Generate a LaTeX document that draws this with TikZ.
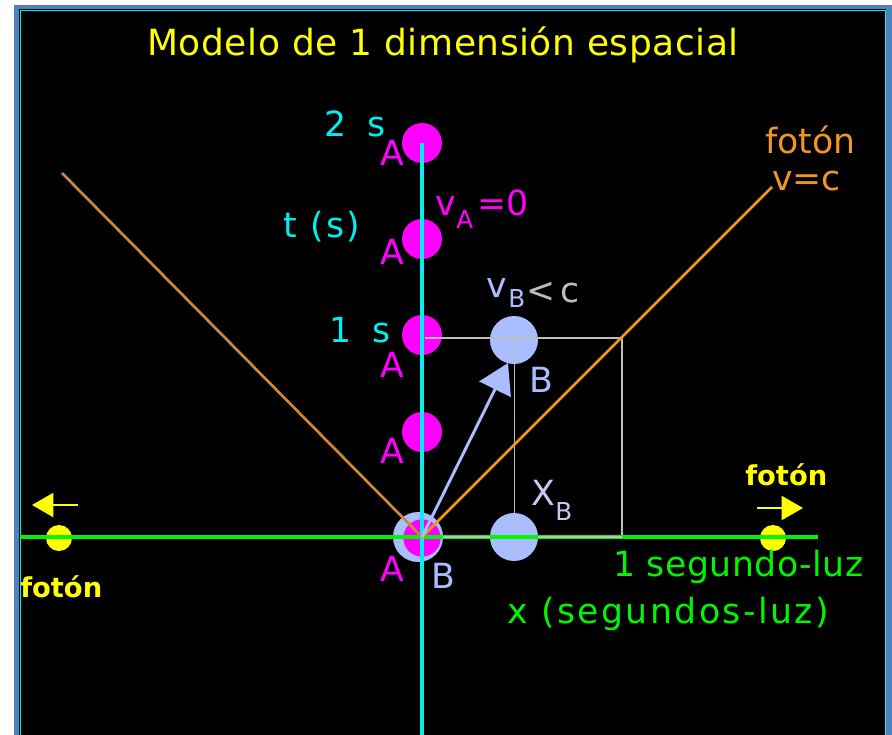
\documentclass[tikz,border=0pt]{standalone}
\usepackage{fontspec}
\setmainfont{DejaVu Sans}
\newfontfamily\lsbig[LetterSpace=7]{DejaVu Sans}
\newfontfamily\lsmid[LetterSpace=3.5]{DejaVu Sans}
\newfontfamily\lssmall[LetterSpace=1.5]{DejaVu Sans}
\usetikzlibrary{arrows.meta}
\definecolor{frameblue}{RGB}{79,129,189}
\definecolor{cyanax}{RGB}{0,240,240}
\definecolor{greenax}{RGB}{0,245,0}
\definecolor{mag}{RGB}{255,0,255}
\definecolor{lblue}{RGB}{170,190,255}
\definecolor{lav}{RGB}{200,200,245}
\definecolor{greyl}{RGB}{190,190,190}
\definecolor{orng}{RGB}{240,150,35}
\definecolor{orngd}{RGB}{205,135,55}
\definecolor{yel}{RGB}{255,255,0}
\tikzset{
  mball/.style={circle, fill=mag, inner sep=0pt, minimum size=30pt},
  bball/.style={circle, fill=lblue, inner sep=0pt, minimum size=36pt},
  pball/.style={circle, fill=yel, inner sep=0pt, minimum size=19.5pt},
  lbl/.style={inner sep=0pt, font=\fontsize{26}{30}\selectfont},
  sublbl/.style={inner sep=0pt, font=\fontsize{18.5}{22}\selectfont},
  ylbl/.style={inner sep=0pt, text=yel, font=\fontsize{20.5}{24}\selectfont\bfseries},
}
\begin{document}
\begin{tikzpicture}[x=0.75pt,y=-0.75pt]
\useasboundingbox (0,0) rectangle (892,735);
% frame
\fill[frameblue] (14,5) rectangle (892,735);
\fill[black] (19,9.5) rectangle (886,735);
\draw[cyanax, line width=0.75pt] (20.5,11) rectangle (885,740);

% coordinates
\coordinate (O) at (422,537);
\coordinate (ttop) at (422,143);
\coordinate (tbot) at (422,735);
\coordinate (xl) at (20,537);
\coordinate (xr) at (818,537);
\coordinate (RT) at (425,338);
\coordinate (RC) at (622,338);
\coordinate (RB) at (622,537);
\coordinate (PLend) at (62,173);
\coordinate (PRend) at (772,187);
\coordinate (Btip) at (508,363);
\coordinate (yr1) at (757,508);
\coordinate (yr2) at (803,508);
\coordinate (yl1) at (78,505);
\coordinate (yl2) at (32,505);

% balls
\node[mball] (A2) at (422,143) {};
\node[mball] (A15) at (422,239) {};
\node[mball] (A1) at (422,335) {};
\node[mball] (A05) at (422,432) {};
\node[bball, minimum size=37.5pt] (B0) at (418,537) {};
\node[mball, minimum size=28pt] (A0) at (422,538) {};
\node[bball] (B1) at (514,340) {};
\node[bball] (BX) at (514,537) {};
\node[pball] (PL) at (59,538) {};
\node[pball] (PR) at (773,538) {};

% grey construction lines
\draw[greyl, line width=1.5pt] (RT) -- (RC) -- (RB);
\draw[greyl, line width=0.75pt] (B1.center) -- (BX.center);

% x axis
\draw[greenax, line width=2.6pt] (xl) -- (xr);
\draw[greyl, line width=1.5pt] (B0.east) -- (BX.west);
\draw[greyl, line width=1.5pt] (BX.east) -- (RB);

% t axis
\draw[cyanax, line width=2.6pt] (ttop) -- (tbot);

% photon world lines
\draw[orngd, line width=2pt] (O) -- (PLend);
\draw[orng, line width=2pt] (O) -- (PRend);

% B velocity arrow
\draw[lblue, line width=2.2pt, -{Triangle[length=22pt,width=26pt]}] (O) -- (Btip);

% photon arrows
\draw[yel, line width=1.6pt, -{Triangle[length=16pt,width=18pt]}] (yr1) -- (yr2);
\draw[yel, line width=1.6pt, -{Triangle[length=16pt,width=18pt]}] (yl1) -- (yl2);

% texts
\node[inner sep=0pt, text=yel, font=\fontsize{27}{30}\lssmall, anchor=base] (title) at (443,56) {Modelo de 1 dimensión espacial};

\node[lbl, text=cyanax, anchor=base] (l2s) at (355,137) {2\hspace{0.3em} s};
\node[inner sep=0pt, font=\fontsize{26}{30}\lsbig, text=cyanax, anchor=base] (lts) at (322,237) {t (s)};
\node[lbl, text=cyanax, anchor=base] (l1s) at (360,342) {1\hspace{0.3em} s};

\node[lbl, text=mag] (la2) at (392,153) {A};
\node[lbl, text=mag] (la15) at (392,252) {A};
\node[lbl, text=mag] (la1) at (392,365) {A};
\node[lbl, text=mag] (la05) at (392,451) {A};
\node[lbl, text=mag] (la0) at (392,569) {A};

\node[lbl, text=mag, anchor=base west] (vA) at (435,215) {v};
\node[sublbl, text=mag, anchor=base west] (vAs) at (456,228) {A};
\node[lbl, text=mag, anchor=base west] (vA0) at (477,215) {=0};

\node[lbl, text=lblue, anchor=base west] (vB) at (486,297) {v};
\node[sublbl, text=lblue, anchor=base west] (vBs) at (508,307) {B};
\node[lbl, text=greyl, anchor=base west] (vBc) at (526,302) {<\hspace{0.15em}c};

\node[lbl, text=lblue] (lB1) at (541,380) {B};
\node[lbl, text=lblue] (lB0) at (443,576) {B};

\node[lbl, text=lav, anchor=base west] (xB) at (531,505) {X};
\node[sublbl, text=lav, anchor=base west] (xBs) at (555,520) {B};

\node[inner sep=0pt, font=\fontsize{26}{30}\lssmall, text=greenax, anchor=base west] (seg) at (613,576) {1 segundo-luz};
\node[inner sep=0pt, font=\fontsize{26}{30}\lsbig, text=greenax, anchor=base west] (xlab) at (507,623) {x (segundos-luz)};

\node[lbl, text=orng, anchor=base west] (fo) at (765,153) {fotón};
\node[lbl, text=orng, anchor=base west] (vc) at (772,190) {v=c};

\node[ylbl, anchor=base west] (fr) at (745,485) {fotón};
\node[ylbl, anchor=base west] (fl) at (20,597) {fotón};
\end{tikzpicture}
\end{document}
